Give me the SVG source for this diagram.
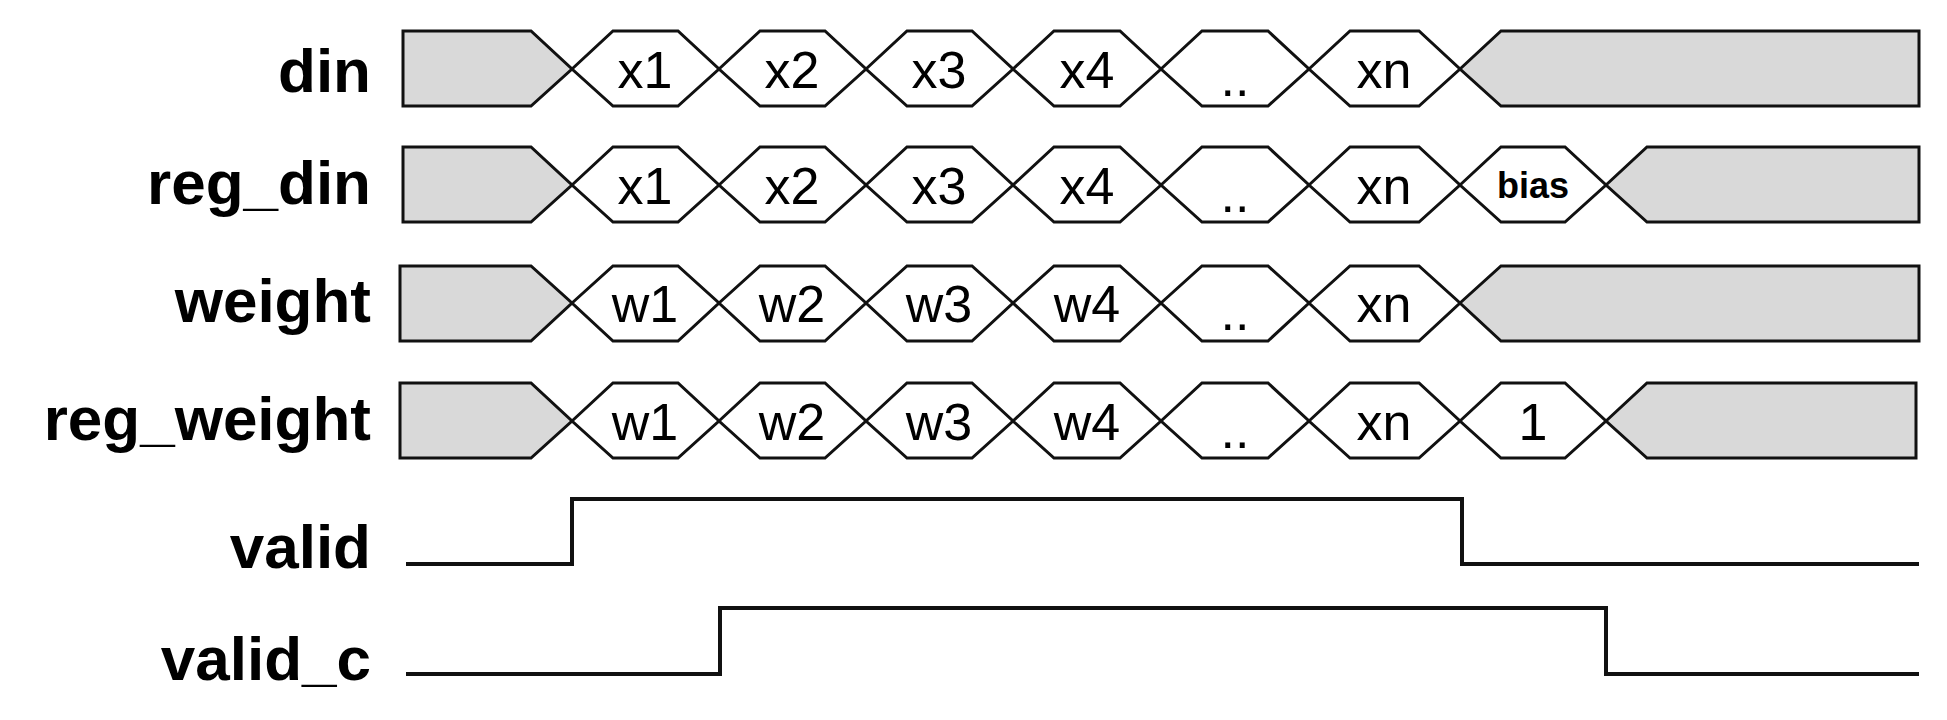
<svg xmlns="http://www.w3.org/2000/svg" width="1947" height="720" viewBox="0 0 1947 720">
<style>
.g{fill:#d9d9d9;stroke:#111;stroke-width:3;stroke-linejoin:miter}
.c{fill:#fff;stroke:#111;stroke-width:3}
.l{font-family:"Liberation Sans",Arial,sans-serif;font-weight:bold;font-size:62px;text-anchor:end;fill:#000}
.t{font-family:"Liberation Sans",Arial,sans-serif;font-size:52px;text-anchor:middle;fill:#000}
.b{font-family:"Liberation Sans",Arial,sans-serif;font-size:36px;font-weight:bold;text-anchor:middle;fill:#000}
.w{fill:none;stroke:#111;stroke-width:4}
</style>
<rect width="1947" height="720" fill="#fff"/>
<g id="din">
<text class="l" x="371" y="92">din</text>
<polygon class="g" points="403,31 531,31 572,69 531,106 403,106"/>
<polygon class="c" points="572,69 613,31 678,31 719,69 678,106 613,106"/><text class="t" x="645" y="88">x1</text>
<polygon class="c" points="719,69 760,31 825,31 866,69 825,106 760,106"/><text class="t" x="792" y="88">x2</text>
<polygon class="c" points="866,69 907,31 972,31 1013,69 972,106 907,106"/><text class="t" x="939" y="88">x3</text>
<polygon class="c" points="1013,69 1054,31 1120,31 1161,69 1120,106 1054,106"/><text class="t" x="1087" y="88">x4</text>
<polygon class="c" points="1161,69 1202,31 1268,31 1309,69 1268,106 1202,106"/><text class="t" x="1235" y="96">..</text>
<polygon class="c" points="1309,69 1350,31 1419,31 1460,69 1419,106 1350,106"/><text class="t" x="1384" y="88">xn</text>
<polygon class="g" points="1460,69 1501,31 1919,31 1919,106 1501,106"/>
</g>
<g id="reg_din">
<text class="l" x="371" y="204">reg_din</text>
<polygon class="g" points="403,147 531,147 572,185 531,222 403,222"/>
<polygon class="c" points="572,185 613,147 678,147 719,185 678,222 613,222"/><text class="t" x="645" y="204">x1</text>
<polygon class="c" points="719,185 760,147 825,147 866,185 825,222 760,222"/><text class="t" x="792" y="204">x2</text>
<polygon class="c" points="866,185 907,147 972,147 1013,185 972,222 907,222"/><text class="t" x="939" y="204">x3</text>
<polygon class="c" points="1013,185 1054,147 1120,147 1161,185 1120,222 1054,222"/><text class="t" x="1087" y="204">x4</text>
<polygon class="c" points="1161,185 1202,147 1268,147 1309,185 1268,222 1202,222"/><text class="t" x="1235" y="212">..</text>
<polygon class="c" points="1309,185 1350,147 1419,147 1460,185 1419,222 1350,222"/><text class="t" x="1384" y="204">xn</text>
<polygon class="c" points="1460,185 1501,147 1565,147 1606,185 1565,222 1501,222"/><text class="b" x="1533" y="198">bias</text>
<polygon class="g" points="1606,185 1647,147 1919,147 1919,222 1647,222"/>
</g>
<g id="weight">
<text class="l" x="371" y="322">weight</text>
<polygon class="g" points="400,266 531,266 572,303 531,341 400,341"/>
<polygon class="c" points="572,303 613,266 678,266 719,303 678,341 613,341"/><text class="t" x="645" y="322">w1</text>
<polygon class="c" points="719,303 760,266 825,266 866,303 825,341 760,341"/><text class="t" x="792" y="322">w2</text>
<polygon class="c" points="866,303 907,266 972,266 1013,303 972,341 907,341"/><text class="t" x="939" y="322">w3</text>
<polygon class="c" points="1013,303 1054,266 1120,266 1161,303 1120,341 1054,341"/><text class="t" x="1087" y="322">w4</text>
<polygon class="c" points="1161,303 1202,266 1268,266 1309,303 1268,341 1202,341"/><text class="t" x="1235" y="330">..</text>
<polygon class="c" points="1309,303 1350,266 1419,266 1460,303 1419,341 1350,341"/><text class="t" x="1384" y="322">xn</text>
<polygon class="g" points="1460,303 1501,266 1919,266 1919,341 1501,341"/>
</g>
<g id="reg_weight">
<text class="l" x="371" y="440">reg_weight</text>
<polygon class="g" points="400,383 531,383 572,421 531,458 400,458"/>
<polygon class="c" points="572,421 613,383 678,383 719,421 678,458 613,458"/><text class="t" x="645" y="440">w1</text>
<polygon class="c" points="719,421 760,383 825,383 866,421 825,458 760,458"/><text class="t" x="792" y="440">w2</text>
<polygon class="c" points="866,421 907,383 972,383 1013,421 972,458 907,458"/><text class="t" x="939" y="440">w3</text>
<polygon class="c" points="1013,421 1054,383 1120,383 1161,421 1120,458 1054,458"/><text class="t" x="1087" y="440">w4</text>
<polygon class="c" points="1161,421 1202,383 1268,383 1309,421 1268,458 1202,458"/><text class="t" x="1235" y="448">..</text>
<polygon class="c" points="1309,421 1350,383 1419,383 1460,421 1419,458 1350,458"/><text class="t" x="1384" y="440">xn</text>
<polygon class="c" points="1460,421 1501,383 1565,383 1606,421 1565,458 1501,458"/><text class="t" x="1533" y="440">1</text>
<polygon class="g" points="1606,421 1647,383 1916,383 1916,458 1647,458"/>
</g>
<g id="valid">
<text class="l" x="371" y="568">valid</text>
</g>
<g id="valid_c">
<text class="l" x="371" y="680">valid_c</text>
</g>
<g id="connectors">
<polyline class="w" points="406,564 572,564 572,499 1462,499 1462,564 1919,564"/>
<polyline class="w" points="406,674 720,674 720,608 1606,608 1606,674 1919,674"/>
</g>
</svg>
